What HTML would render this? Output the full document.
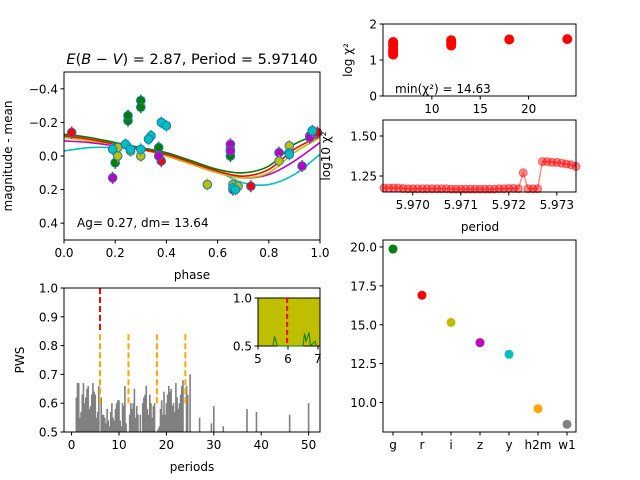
<!DOCTYPE html>
<html><head><meta charset="utf-8"><style>
body{margin:0;background:#fff}
svg{display:block;font-family:"DejaVu Sans","Liberation Sans",sans-serif}
</style></head><body>
<svg id="c" width="640" height="480" xmlns="http://www.w3.org/2000/svg"></svg>
<script>
// ---- data ----
const curvePhases=[0,0.1,0.2,0.3,0.4,0.5,0.6,0.7,0.8,0.9,1.0];
const curveG=[-0.13,-0.11,-0.08,-0.05,-0.02,0.03,0.08,0.10,0.06,-0.07,-0.13];
const curveR=[-0.12,-0.10,-0.07,-0.04,-0.01,0.04,0.09,0.12,0.08,-0.04,-0.12];
const curveI=[-0.11,-0.09,-0.07,-0.04,0.0,0.05,0.10,0.13,0.10,-0.02,-0.11];
const curveZ=[-0.09,-0.08,-0.06,-0.04,0.0,0.05,0.10,0.13,0.11,0.03,-0.08];
const curveY=[-0.03,-0.05,-0.05,-0.04,-0.01,0.03,0.09,0.16,0.17,0.11,-0.01];
const ptsG=[[0.2,0.04],[0.25,-0.21],[0.25,-0.24],[0.3,-0.33],[0.3,-0.29],[0.37,-0.05],[0.65,0.0],[0.65,-0.04],[0.97,-0.15]];
const ptsR=[[0.03,-0.14],[0.38,0.03],[0.66,0.2],[0.73,0.18],[0.96,-0.12],[0.99,-0.14]];
const ptsZ=[[0.19,0.13],[0.37,0.0],[0.65,-0.07],[0.65,-0.03],[0.84,-0.02],[0.93,0.06],[0.96,-0.11]];
const ptsI=[[0.21,-0.05],[0.21,0.0],[0.26,-0.03],[0.30,0.0],[0.56,0.17],[0.66,0.17],[0.68,0.18],[0.84,0.03],[0.88,-0.06],[0.88,-0.02]];
const ptsY=[[0.19,-0.04],[0.24,-0.07],[0.26,-0.04],[0.3,-0.04],[0.34,-0.12],[0.38,-0.2],[0.4,-0.18],[0.33,-0.1],[0.66,0.19],[0.67,0.2],[0.88,-0.01],[0.97,-0.15]];
const pwsPeriods=[1,1.25,1.5,1.75,2,2.25,2.5,2.75,3,3.25,3.5,3.75,4,4.25,4.5,4.75,5,5.25,5.5,5.75,6.25,6.5,6.75,7,7.25,7.5,7.75,8,8.25,8.5,8.75,9,9.25,9.5,9.75,10,10.25,10.5,10.75,11,11.25,11.5,12.25,12.5,12.75,13,13.25,13.5,13.75,14,14.5,15,15.25,15.5,15.75,16,16.25,16.5,16.75,17,17.25,17.5,18.25,18.5,18.75,19,19.25,19.5,19.75,20,20.25,20.5,20.75,21,21.25,21.5,21.75,22,22.25,22.5,22.75,23,23.25,23.5,24.25,24.5,25,27,29.5,30,32,37,39,46,50];
const pwsValues=[0.62,0.67,0.67,0.55,0.57,0.63,0.67,0.60,0.62,0.65,0.66,0.58,0.59,0.63,0.67,0.64,0.63,0.55,0.57,0.66,0.62,0.56,0.56,0.55,0.53,0.58,0.54,0.52,0.57,0.60,0.55,0.54,0.58,0.60,0.61,0.61,0.54,0.52,0.60,0.59,0.66,0.53,0.56,0.60,0.58,0.60,0.65,0.55,0.59,0.56,0.56,0.60,0.62,0.63,0.66,0.58,0.56,0.63,0.60,0.55,0.59,0.60,0.51,0.52,0.58,0.61,0.56,0.64,0.56,0.60,0.63,0.66,0.64,0.65,0.59,0.60,0.57,0.67,0.62,0.58,0.60,0.63,0.66,0.68,0.66,0.63,0.70,0.55,0.53,0.59,0.52,0.58,0.57,0.56,0.60,0.59];
const aliasPeriods=[6,12,18,24];
const chiPeriods=[6,6,6,6,6,6,6,12,12,12,12,18,24];
const chiValues=[1.15,1.2,1.25,1.3,1.4,1.45,1.5,1.4,1.45,1.5,1.55,1.57,1.58];
const finePeriods=[5.9694,5.9695,5.9696,5.9697,5.9698,5.9699,5.97,5.9701,5.9702,5.9703,5.9704,5.9705,5.9706,5.9707,5.9708,5.9709,5.971,5.9711,5.9712,5.9713,5.9714,5.9715,5.9716,5.9717,5.9718,5.9719,5.972,5.9721,5.9722,5.9723,5.9724,5.9725,5.9726,5.9727,5.9728,5.9729,5.973,5.9731,5.9732,5.9733,5.9734];
const fineChi=[1.175,1.175,1.175,1.175,1.172,1.17,1.17,1.17,1.17,1.17,1.17,1.17,1.17,1.17,1.168,1.168,1.168,1.168,1.168,1.168,1.168,1.168,1.168,1.168,1.17,1.17,1.172,1.172,1.17,1.27,1.17,1.17,1.17,1.34,1.34,1.335,1.335,1.33,1.325,1.32,1.31];
const bands=["g","r","i","z","y","h2m","w1"];
const bandMags=[19.87,16.9,15.15,13.85,13.1,9.6,8.6];
const bandColors=["green","red","#bfbf00","#bf00bf","#00bfbf","orange","gray"];
// ---- helpers ----
const svg=document.getElementById('c');const NS="http://www.w3.org/2000/svg";
function el(t,a,p){const e=document.createElementNS(NS,t);for(const k in a)e.setAttribute(k,a[k]);(p||svg).appendChild(e);return e;}
function txt(s,x,y,a,size,p,anchor){const e=el('text',Object.assign({x:x,y:y,'font-size':size||12,'text-anchor':anchor||'middle',fill:'#000'},a||{}),p);e.textContent=s;return e;}
function lin(d0,d1,r0,r1){return v=>r0+(v-d0)/(d1-d0)*(r1-r0);}
function frame(x0,y0,x1,y1,name,fill){const r=el('rect',{x:x0,y:y0,width:x1-x0,height:y1-y0,fill:fill||'none',stroke:'#000','stroke-width':1});return r;}
function yticks(vals,labs,sy,x0,size){vals.forEach((v,i)=>{el('line',{x1:x0-3.5,x2:x0,y1:sy(v),y2:sy(v),stroke:'#000'});const t=txt(labs[i],x0-6,sy(v)+4.5,{},size||12,null,'end');});}
function xticks(vals,labs,sx,y0,size){vals.forEach((v,i)=>{el('line',{x1:sx(v),x2:sx(v),y1:y0,y2:y0+3.5,stroke:'#000'});const t=txt(labs[i],sx(v),y0+17,{},size||12);});}
// ---- main light curve ----
const mx=lin(0,1,64,320),my=lin(-0.5,0.5,72,240);
const g1=el('g',{});
function smooth(ph,vals,col,name){let d='';for(let i=0;i<ph.length;i++){const x=mx(ph[i]),y=my(vals[i]);if(i==0)d+='M'+x+','+y;else{const x0=mx(ph[i-1]),y0=my(vals[i-1]);const pm=i>1?my(vals[i-2]):y0-(y-y0);const nn=i<ph.length-1?my(vals[i+1]):y+(y-y0);const dx=(x-x0)/3;d+=' C'+(x0+dx)+','+(y0+(y-pm)/6)+' '+(x-dx)+','+(y-(nn-y0)/6)+' '+x+','+y;}}const p=el('path',{d:d,fill:'none',stroke:col,'stroke-width':1.6},g1);}
smooth(curvePhases,curveY,'#00bfbf','model-curve-y');
smooth(curvePhases,curveZ,'#bf00bf','model-curve-z');
smooth(curvePhases,curveI,'#bfbf00','model-curve-i');
smooth(curvePhases,curveR,'red','model-curve-r');
smooth(curvePhases,curveG,'green','model-curve-g');
function pts(arr,col,name){arr.forEach(p=>{el('line',{x1:mx(p[0]),x2:mx(p[0]),y1:my(p[1])-6,y2:my(p[1])+6,stroke:col,'stroke-width':1.5},g1);const c=el('circle',{cx:mx(p[0]),cy:my(p[1]),r:4.3,fill:col,stroke:'#1f77b4','stroke-width':1},g1);});}
pts(ptsG,'green','point-g');pts(ptsR,'red','point-r');pts(ptsZ,'#bf00bf','point-z');pts(ptsI,'#bfbf00','point-i');pts(ptsY,'#00bfbf','point-y');
frame(64,72,320,240,'light-curve-axes');
yticks([-0.4,-0.2,0,0.2,0.4],['\u22120.4','\u22120.2','0.0','0.2','0.4'],my,64);
xticks([0,0.2,0.4,0.6,0.8,1.0],['0.0','0.2','0.4','0.6','0.8','1.0'],mx,240);
let t=txt('phase',192,279,{},12);
t=txt('magnitude - mean',0,0,{transform:'translate(12,156) rotate(-90)'},12);
t=txt('Ag= 0.27, dm=  13.64',77,227,{},12,null,'start');
t=el('text',{x:192,y:64,'font-size':14.5,'text-anchor':'middle'});t.innerHTML='<tspan font-style="italic">E</tspan>(<tspan font-style="italic">B</tspan> \u2212 <tspan font-style="italic">V</tspan>) = 2.87, Period = 5.97140';
// ---- periodogram ----
const px=lin(-1.6,52.4,64,320),py=lin(0.5,1.0,432,288);
pwsPeriods.forEach((p,i)=>{const b=el('rect',{x:px(p)-0.8,y:py(pwsValues[i]),width:1.6,height:432-py(pwsValues[i]),fill:'gray'});});
aliasPeriods.forEach(p=>{const l=el('line',{x1:px(p),x2:px(p),y1:py(0.6),y2:py(0.85),stroke:'orange','stroke-width':2,'stroke-dasharray':'6,3'});});
let l=el('line',{x1:px(6),x2:px(6),y1:py(1.0),y2:py(0.85),stroke:'red','stroke-width':2,'stroke-dasharray':'6,3'});
frame(64,288,320,432,'periodogram-axes');
yticks([0.5,0.6,0.7,0.8,0.9,1.0],['0.5','0.6','0.7','0.8','0.9','1.0'],py,64);
xticks([0,10,20,30,40,50],['0','10','20','30','40','50'],px,432);
t=txt('periods',192,471,{},12);
t=txt('PWS',0,0,{transform:'translate(24,360) rotate(-90)'},12);
// inset
const ix=lin(5,7,258,318),iy=lin(0.5,1.0,346,298);
frame(258,298,320,346,'inset-axes','#bfbf00');
el('polyline',{points:[[5.5,0.5],[5.55,0.6],[5.6,0.55],[5.65,0.5],[6.5,0.5],[6.55,0.63],[6.6,0.55],[6.7,0.64],[6.75,0.5],[6.9,0.55],[6.95,0.5]].map(p=>ix(p[0])+','+iy(p[1])).join(' '),fill:'none',stroke:'green','stroke-width':1});
l=el('line',{x1:ix(5.9714),x2:ix(5.9714),y1:298,y2:346,stroke:'red','stroke-width':2,'stroke-dasharray':'5,3'});
yticks([0.5,1.0],['0.5','1.0'],iy,258);
xticks([5,6,7],['5','6','7'],ix,346);
// ---- chi2 top right ----
const cx=lin(4.95,24.9,383,576),cy=lin(0,2,96,24);
chiPeriods.forEach((p,i)=>{const c=el('circle',{cx:cx(p),cy:cy(chiValues[i]),r:5,fill:'red'});});
frame(383,24,576,96,'chi2-axes');
yticks([0,1,2],['0','1','2'],cy,383);
xticks([10,15,20],['10','15','20'],cx,96);
t=txt('min(\u03c7\u00b2) = 14.63',395,93,{},12,null,'start');
t=txt('log \u03c7\u00b2',0,0,{transform:'translate(352,60) rotate(-90)'},12);
// ---- fine chi2 ----
const fx=lin(5.96938,5.9734,383,576),fy=lin(1.15,1.60,192,120);
el('polyline',{points:finePeriods.map((p,i)=>fx(p)+','+fy(fineChi[i])).join(' '),fill:'none',stroke:'red','stroke-opacity':0.45,'stroke-width':1.5});
finePeriods.forEach((p,i)=>{const c=el('circle',{cx:fx(p),cy:fy(fineChi[i]),r:4,fill:'red','fill-opacity':0.45,stroke:'red','stroke-opacity':0.5});});
frame(383,120,576,192,'fine-chi2-axes');
yticks([1.25,1.5],['1.25','1.50'],fy,383);
xticks([5.970,5.971,5.972,5.973],['5.970','5.971','5.972','5.973'],fx,192);
t=txt('period',480,231,{},12);
t=txt('log10 \u03c7\u00b2',0,0,{transform:'translate(330,156) rotate(-90)'},12);
// ---- SED ----
const sx=i=>393+i*29,sy=lin(20,10,247,402.5);
bands.forEach((b,i)=>{const c=el('circle',{cx:sx(i),cy:sy(bandMags[i]),r:4.5,fill:bandColors[i]});});
frame(383,240,576,432,'sed-axes');
yticks([10,12.5,15,17.5,20],['10.0','12.5','15.0','17.5','20.0'],sy,383);
bands.forEach((b,i)=>{el('line',{x1:sx(i),x2:sx(i),y1:432,y2:435.5,stroke:'#000'});const tt=txt(b,sx(i),449,{},12);});
</script>
</body></html>
